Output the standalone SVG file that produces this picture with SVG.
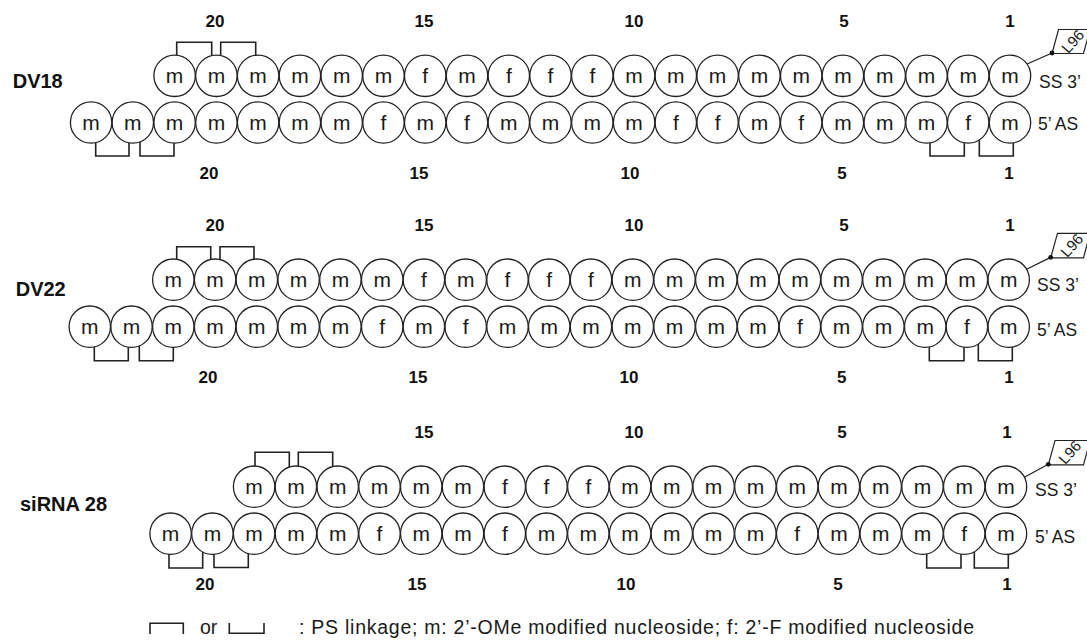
<svg xmlns="http://www.w3.org/2000/svg" width="1087" height="642" viewBox="0 0 1087 642">
<style>
.nt circle{fill:#fff;stroke:#222;stroke-width:1.3}
.nt text{font-family:"Liberation Sans",Arial,sans-serif;font-size:21px;text-anchor:middle;fill:#1a1a1a}
.br{fill:none;stroke:#222;stroke-width:1.6}
.num{font-family:"Liberation Sans",Arial,sans-serif;font-size:17px;font-weight:bold;text-anchor:middle;fill:#111}
.name{font-family:"Liberation Sans",Arial,sans-serif;font-size:20px;font-weight:bold;fill:#111}
.end{font-family:"Liberation Sans",Arial,sans-serif;font-size:17.5px;fill:#1a1a1a}
.tag{fill:#fff;stroke:#222;stroke-width:1.2}
.tagt{font-family:"Liberation Sans",Arial,sans-serif;font-size:15px;fill:#1a1a1a;text-anchor:middle}
.leg{font-family:"Liberation Sans",Arial,sans-serif;font-size:19.5px;fill:#1a1a1a}
</style>
<g id="connectors">
<polyline class="br" points="176.7,58 176.7,42.3 211.7,42.3 211.7,58"/>
<polyline class="br" points="220.7,58 220.7,42.3 255.7,42.3 255.7,58"/>
<polyline class="br" points="95.7,140 95.7,156 129,156 129,140"/>
<polyline class="br" points="140,140 140,156 174,156 174,140"/>
<polyline class="br" points="930,140 930,156 964.3,156 964.3,140"/>
<polyline class="br" points="979.3,140 979.3,156 1013.3,156 1013.3,140"/>
<line class="br" x1="1026" y1="64.5" x2="1052" y2="53" style="stroke-width:1.3"/>
<polyline class="br" points="176.7,262 176.7,246.7 210.7,246.7 210.7,262"/>
<polyline class="br" points="220,262 220,246.7 254,246.7 254,262"/>
<polyline class="br" points="94.3,344 94.3,360.7 128.3,360.7 128.3,344"/>
<polyline class="br" points="139.3,344 139.3,360.7 173.3,360.7 173.3,344"/>
<polyline class="br" points="929.3,344 929.3,360.7 964,360.7 964,344"/>
<polyline class="br" points="978.3,344 978.3,360.7 1012.3,360.7 1012.3,344"/>
<line class="br" x1="1026" y1="269.5" x2="1050.7" y2="257.3" style="stroke-width:1.3"/>
<polyline class="br" points="255,469 255,452.3 289.3,452.3 289.3,469"/>
<polyline class="br" points="298.3,469 298.3,452.3 332.7,452.3 332.7,469"/>
<polyline class="br" points="169,551 169,568 202.7,568 202.7,551"/>
<polyline class="br" points="214,551 214,567.5 248.3,567.5 248.3,551"/>
<polyline class="br" points="926.7,551 926.7,568 961,568 961,551"/>
<polyline class="br" points="974.3,551 974.3,568 1008.3,568 1008.3,551"/>
<line class="br" x1="1023" y1="478" x2="1048.3" y2="464.3" style="stroke-width:1.3"/>
</g>
<g id="dv18">
<text class="name" x="12.7" y="88">DV18</text>
<g class="num"><text x="215" y="27">20</text><text x="424" y="27">15</text><text x="634" y="27">10</text><text x="844" y="27">5</text><text x="1010" y="27">1</text></g>
<g class="num"><text x="209" y="179">20</text><text x="419" y="179">15</text><text x="630" y="179">10</text><text x="842" y="179">5</text><text x="1009" y="179">1</text></g>
<text class="end" x="1039" y="88">SS 3’</text>
<text class="end" x="1038" y="129.5">5’ AS</text>
<g id="dv18-l96"><polygon class="tag" points="1052,53.5 1058.5,29.5 1090,29.5 1083.5,53.5"/><circle cx="1052" cy="53" r="2.4" fill="#111"/><text class="tagt" transform="translate(1073,41.5) rotate(-48)" y="5">L96</text></g>
<g id="dv18-ss1" class="nt" transform="translate(1010,75.8)"><circle r="20.7"/><text y="7.5">m</text></g>
<g id="dv18-ss2" class="nt" transform="translate(968.2,75.8)"><circle r="20.7"/><text y="7.5">m</text></g>
<g id="dv18-ss3" class="nt" transform="translate(926.5,75.8)"><circle r="20.7"/><text y="7.5">m</text></g>
<g id="dv18-ss4" class="nt" transform="translate(884.7,75.8)"><circle r="20.7"/><text y="7.5">m</text></g>
<g id="dv18-ss5" class="nt" transform="translate(842.9,75.8)"><circle r="20.7"/><text y="7.5">m</text></g>
<g id="dv18-ss6" class="nt" transform="translate(801.2,75.8)"><circle r="20.7"/><text y="7.5">m</text></g>
<g id="dv18-ss7" class="nt" transform="translate(759.4,75.8)"><circle r="20.7"/><text y="7.5">m</text></g>
<g id="dv18-ss8" class="nt" transform="translate(717.6,75.8)"><circle r="20.7"/><text y="7.5">m</text></g>
<g id="dv18-ss9" class="nt" transform="translate(675.8,75.8)"><circle r="20.7"/><text y="7.5">m</text></g>
<g id="dv18-ss10" class="nt" transform="translate(634.1,75.8)"><circle r="20.7"/><text y="7.5">m</text></g>
<g id="dv18-ss11" class="nt" transform="translate(592.3,75.8)"><circle r="20.7"/><text y="7.5">f</text></g>
<g id="dv18-ss12" class="nt" transform="translate(550.5,75.8)"><circle r="20.7"/><text y="7.5">f</text></g>
<g id="dv18-ss13" class="nt" transform="translate(508.8,75.8)"><circle r="20.7"/><text y="7.5">f</text></g>
<g id="dv18-ss14" class="nt" transform="translate(467,75.8)"><circle r="20.7"/><text y="7.5">m</text></g>
<g id="dv18-ss15" class="nt" transform="translate(425.2,75.8)"><circle r="20.7"/><text y="7.5">f</text></g>
<g id="dv18-ss16" class="nt" transform="translate(383.5,75.8)"><circle r="20.7"/><text y="7.5">m</text></g>
<g id="dv18-ss17" class="nt" transform="translate(341.7,75.8)"><circle r="20.7"/><text y="7.5">m</text></g>
<g id="dv18-ss18" class="nt" transform="translate(299.9,75.8)"><circle r="20.7"/><text y="7.5">m</text></g>
<g id="dv18-ss19" class="nt" transform="translate(258.1,75.8)"><circle r="20.7"/><text y="7.5">m</text></g>
<g id="dv18-ss20" class="nt" transform="translate(216.4,75.8)"><circle r="20.7"/><text y="7.5">m</text></g>
<g id="dv18-ss21" class="nt" transform="translate(174.6,75.8)"><circle r="20.7"/><text y="7.5">m</text></g>
<g id="dv18-as1" class="nt" transform="translate(1010,122.5)"><circle r="20.7"/><text y="7.5">m</text></g>
<g id="dv18-as2" class="nt" transform="translate(968.2,122.5)"><circle r="20.7"/><text y="7.5">f</text></g>
<g id="dv18-as3" class="nt" transform="translate(926.5,122.5)"><circle r="20.7"/><text y="7.5">m</text></g>
<g id="dv18-as4" class="nt" transform="translate(884.7,122.5)"><circle r="20.7"/><text y="7.5">m</text></g>
<g id="dv18-as5" class="nt" transform="translate(842.9,122.5)"><circle r="20.7"/><text y="7.5">m</text></g>
<g id="dv18-as6" class="nt" transform="translate(801.2,122.5)"><circle r="20.7"/><text y="7.5">f</text></g>
<g id="dv18-as7" class="nt" transform="translate(759.4,122.5)"><circle r="20.7"/><text y="7.5">m</text></g>
<g id="dv18-as8" class="nt" transform="translate(717.6,122.5)"><circle r="20.7"/><text y="7.5">f</text></g>
<g id="dv18-as9" class="nt" transform="translate(675.8,122.5)"><circle r="20.7"/><text y="7.5">f</text></g>
<g id="dv18-as10" class="nt" transform="translate(634.1,122.5)"><circle r="20.7"/><text y="7.5">m</text></g>
<g id="dv18-as11" class="nt" transform="translate(592.3,122.5)"><circle r="20.7"/><text y="7.5">m</text></g>
<g id="dv18-as12" class="nt" transform="translate(550.5,122.5)"><circle r="20.7"/><text y="7.5">m</text></g>
<g id="dv18-as13" class="nt" transform="translate(508.8,122.5)"><circle r="20.7"/><text y="7.5">m</text></g>
<g id="dv18-as14" class="nt" transform="translate(467,122.5)"><circle r="20.7"/><text y="7.5">f</text></g>
<g id="dv18-as15" class="nt" transform="translate(425.2,122.5)"><circle r="20.7"/><text y="7.5">m</text></g>
<g id="dv18-as16" class="nt" transform="translate(383.5,122.5)"><circle r="20.7"/><text y="7.5">f</text></g>
<g id="dv18-as17" class="nt" transform="translate(341.7,122.5)"><circle r="20.7"/><text y="7.5">m</text></g>
<g id="dv18-as18" class="nt" transform="translate(299.9,122.5)"><circle r="20.7"/><text y="7.5">m</text></g>
<g id="dv18-as19" class="nt" transform="translate(258.1,122.5)"><circle r="20.7"/><text y="7.5">m</text></g>
<g id="dv18-as20" class="nt" transform="translate(216.4,122.5)"><circle r="20.7"/><text y="7.5">m</text></g>
<g id="dv18-as21" class="nt" transform="translate(174.6,122.5)"><circle r="20.7"/><text y="7.5">m</text></g>
<g id="dv18-as22" class="nt" transform="translate(132.8,122.5)"><circle r="20.7"/><text y="7.5">m</text></g>
<g id="dv18-as23" class="nt" transform="translate(91.1,122.5)"><circle r="20.7"/><text y="7.5">m</text></g>
</g>
<g id="dv22">
<text class="name" x="15.7" y="295.5">DV22</text>
<g class="num"><text x="215" y="231">20</text><text x="424" y="231">15</text><text x="634" y="231">10</text><text x="844" y="231">5</text><text x="1010" y="231">1</text></g>
<g class="num"><text x="208" y="382.7">20</text><text x="418" y="382.7">15</text><text x="629" y="382.7">10</text><text x="841.7" y="382.7">5</text><text x="1009" y="382.7">1</text></g>
<text class="end" x="1037" y="291.3">SS 3’</text>
<text class="end" x="1037" y="336.3">5’ AS</text>
<g id="dv22-l96"><polygon class="tag" points="1050.7,257.8 1057.5,233.3 1090,233.3 1083.5,257.8"/><circle cx="1050.7" cy="257.3" r="2.4" fill="#111"/><text class="tagt" transform="translate(1072,245.5) rotate(-48)" y="5">L96</text></g>
<g id="dv22-ss1" class="nt" transform="translate(1008.7,279.7)"><circle r="20.7"/><text y="7.5">m</text></g>
<g id="dv22-ss2" class="nt" transform="translate(966.9,279.7)"><circle r="20.7"/><text y="7.5">m</text></g>
<g id="dv22-ss3" class="nt" transform="translate(925.2,279.7)"><circle r="20.7"/><text y="7.5">m</text></g>
<g id="dv22-ss4" class="nt" transform="translate(883.4,279.7)"><circle r="20.7"/><text y="7.5">m</text></g>
<g id="dv22-ss5" class="nt" transform="translate(841.6,279.7)"><circle r="20.7"/><text y="7.5">m</text></g>
<g id="dv22-ss6" class="nt" transform="translate(799.9,279.7)"><circle r="20.7"/><text y="7.5">m</text></g>
<g id="dv22-ss7" class="nt" transform="translate(758.1,279.7)"><circle r="20.7"/><text y="7.5">m</text></g>
<g id="dv22-ss8" class="nt" transform="translate(716.3,279.7)"><circle r="20.7"/><text y="7.5">m</text></g>
<g id="dv22-ss9" class="nt" transform="translate(674.5,279.7)"><circle r="20.7"/><text y="7.5">m</text></g>
<g id="dv22-ss10" class="nt" transform="translate(632.8,279.7)"><circle r="20.7"/><text y="7.5">m</text></g>
<g id="dv22-ss11" class="nt" transform="translate(591,279.7)"><circle r="20.7"/><text y="7.5">f</text></g>
<g id="dv22-ss12" class="nt" transform="translate(549.2,279.7)"><circle r="20.7"/><text y="7.5">f</text></g>
<g id="dv22-ss13" class="nt" transform="translate(507.5,279.7)"><circle r="20.7"/><text y="7.5">f</text></g>
<g id="dv22-ss14" class="nt" transform="translate(465.7,279.7)"><circle r="20.7"/><text y="7.5">m</text></g>
<g id="dv22-ss15" class="nt" transform="translate(423.9,279.7)"><circle r="20.7"/><text y="7.5">f</text></g>
<g id="dv22-ss16" class="nt" transform="translate(382.2,279.7)"><circle r="20.7"/><text y="7.5">m</text></g>
<g id="dv22-ss17" class="nt" transform="translate(340.4,279.7)"><circle r="20.7"/><text y="7.5">m</text></g>
<g id="dv22-ss18" class="nt" transform="translate(298.6,279.7)"><circle r="20.7"/><text y="7.5">m</text></g>
<g id="dv22-ss19" class="nt" transform="translate(256.8,279.7)"><circle r="20.7"/><text y="7.5">m</text></g>
<g id="dv22-ss20" class="nt" transform="translate(215.1,279.7)"><circle r="20.7"/><text y="7.5">m</text></g>
<g id="dv22-ss21" class="nt" transform="translate(173.3,279.7)"><circle r="20.7"/><text y="7.5">m</text></g>
<g id="dv22-as1" class="nt" transform="translate(1008.7,326.7)"><circle r="20.7"/><text y="7.5">m</text></g>
<g id="dv22-as2" class="nt" transform="translate(966.9,326.7)"><circle r="20.7"/><text y="7.5">f</text></g>
<g id="dv22-as3" class="nt" transform="translate(925.2,326.7)"><circle r="20.7"/><text y="7.5">m</text></g>
<g id="dv22-as4" class="nt" transform="translate(883.4,326.7)"><circle r="20.7"/><text y="7.5">m</text></g>
<g id="dv22-as5" class="nt" transform="translate(841.6,326.7)"><circle r="20.7"/><text y="7.5">m</text></g>
<g id="dv22-as6" class="nt" transform="translate(799.9,326.7)"><circle r="20.7"/><text y="7.5">f</text></g>
<g id="dv22-as7" class="nt" transform="translate(758.1,326.7)"><circle r="20.7"/><text y="7.5">m</text></g>
<g id="dv22-as8" class="nt" transform="translate(716.3,326.7)"><circle r="20.7"/><text y="7.5">m</text></g>
<g id="dv22-as9" class="nt" transform="translate(674.5,326.7)"><circle r="20.7"/><text y="7.5">m</text></g>
<g id="dv22-as10" class="nt" transform="translate(632.8,326.7)"><circle r="20.7"/><text y="7.5">m</text></g>
<g id="dv22-as11" class="nt" transform="translate(591,326.7)"><circle r="20.7"/><text y="7.5">m</text></g>
<g id="dv22-as12" class="nt" transform="translate(549.2,326.7)"><circle r="20.7"/><text y="7.5">m</text></g>
<g id="dv22-as13" class="nt" transform="translate(507.5,326.7)"><circle r="20.7"/><text y="7.5">m</text></g>
<g id="dv22-as14" class="nt" transform="translate(465.7,326.7)"><circle r="20.7"/><text y="7.5">f</text></g>
<g id="dv22-as15" class="nt" transform="translate(423.9,326.7)"><circle r="20.7"/><text y="7.5">m</text></g>
<g id="dv22-as16" class="nt" transform="translate(382.2,326.7)"><circle r="20.7"/><text y="7.5">f</text></g>
<g id="dv22-as17" class="nt" transform="translate(340.4,326.7)"><circle r="20.7"/><text y="7.5">m</text></g>
<g id="dv22-as18" class="nt" transform="translate(298.6,326.7)"><circle r="20.7"/><text y="7.5">m</text></g>
<g id="dv22-as19" class="nt" transform="translate(256.8,326.7)"><circle r="20.7"/><text y="7.5">m</text></g>
<g id="dv22-as20" class="nt" transform="translate(215.1,326.7)"><circle r="20.7"/><text y="7.5">m</text></g>
<g id="dv22-as21" class="nt" transform="translate(173.3,326.7)"><circle r="20.7"/><text y="7.5">m</text></g>
<g id="dv22-as22" class="nt" transform="translate(131.5,326.7)"><circle r="20.7"/><text y="7.5">m</text></g>
<g id="dv22-as23" class="nt" transform="translate(89.8,326.7)"><circle r="20.7"/><text y="7.5">m</text></g>
</g>
<g id="sirna28">
<text class="name" x="20" y="510.5">siRNA 28</text>
<g class="num"><text x="424" y="438">15</text><text x="634" y="438">10</text><text x="842" y="438">5</text><text x="1007" y="438">1</text></g>
<g class="num"><text x="205" y="590">20</text><text x="417" y="590">15</text><text x="626" y="590">10</text><text x="838" y="590">5</text><text x="1007" y="590">1</text></g>
<text class="end" x="1035" y="495.6">SS 3’</text>
<text class="end" x="1035" y="543">5’ AS</text>
<g id="sirna28-l96"><polygon class="tag" points="1048.3,464.8 1055,440.5 1090,440.5 1083.5,464.8"/><circle cx="1048.3" cy="464.3" r="2.4" fill="#111"/><text class="tagt" transform="translate(1070,452.5) rotate(-48)" y="5">L96</text></g>
<g id="si-ss1" class="nt" transform="translate(1006,486.7)"><circle r="20.7"/><text y="7.5">m</text></g>
<g id="si-ss2" class="nt" transform="translate(964.2,486.7)"><circle r="20.7"/><text y="7.5">m</text></g>
<g id="si-ss3" class="nt" transform="translate(922.5,486.7)"><circle r="20.7"/><text y="7.5">m</text></g>
<g id="si-ss4" class="nt" transform="translate(880.7,486.7)"><circle r="20.7"/><text y="7.5">m</text></g>
<g id="si-ss5" class="nt" transform="translate(838.9,486.7)"><circle r="20.7"/><text y="7.5">m</text></g>
<g id="si-ss6" class="nt" transform="translate(797.2,486.7)"><circle r="20.7"/><text y="7.5">m</text></g>
<g id="si-ss7" class="nt" transform="translate(755.4,486.7)"><circle r="20.7"/><text y="7.5">m</text></g>
<g id="si-ss8" class="nt" transform="translate(713.6,486.7)"><circle r="20.7"/><text y="7.5">m</text></g>
<g id="si-ss9" class="nt" transform="translate(671.8,486.7)"><circle r="20.7"/><text y="7.5">m</text></g>
<g id="si-ss10" class="nt" transform="translate(630.1,486.7)"><circle r="20.7"/><text y="7.5">m</text></g>
<g id="si-ss11" class="nt" transform="translate(588.3,486.7)"><circle r="20.7"/><text y="7.5">f</text></g>
<g id="si-ss12" class="nt" transform="translate(546.5,486.7)"><circle r="20.7"/><text y="7.5">f</text></g>
<g id="si-ss13" class="nt" transform="translate(504.8,486.7)"><circle r="20.7"/><text y="7.5">f</text></g>
<g id="si-ss14" class="nt" transform="translate(463,486.7)"><circle r="20.7"/><text y="7.5">m</text></g>
<g id="si-ss15" class="nt" transform="translate(421.2,486.7)"><circle r="20.7"/><text y="7.5">m</text></g>
<g id="si-ss16" class="nt" transform="translate(379.5,486.7)"><circle r="20.7"/><text y="7.5">m</text></g>
<g id="si-ss17" class="nt" transform="translate(337.7,486.7)"><circle r="20.7"/><text y="7.5">m</text></g>
<g id="si-ss18" class="nt" transform="translate(295.9,486.7)"><circle r="20.7"/><text y="7.5">m</text></g>
<g id="si-ss19" class="nt" transform="translate(254.1,486.7)"><circle r="20.7"/><text y="7.5">m</text></g>
<g id="si-as1" class="nt" transform="translate(1006,533.7)"><circle r="20.7"/><text y="7.5">m</text></g>
<g id="si-as2" class="nt" transform="translate(964.2,533.7)"><circle r="20.7"/><text y="7.5">f</text></g>
<g id="si-as3" class="nt" transform="translate(922.5,533.7)"><circle r="20.7"/><text y="7.5">m</text></g>
<g id="si-as4" class="nt" transform="translate(880.7,533.7)"><circle r="20.7"/><text y="7.5">m</text></g>
<g id="si-as5" class="nt" transform="translate(838.9,533.7)"><circle r="20.7"/><text y="7.5">m</text></g>
<g id="si-as6" class="nt" transform="translate(797.2,533.7)"><circle r="20.7"/><text y="7.5">f</text></g>
<g id="si-as7" class="nt" transform="translate(755.4,533.7)"><circle r="20.7"/><text y="7.5">m</text></g>
<g id="si-as8" class="nt" transform="translate(713.6,533.7)"><circle r="20.7"/><text y="7.5">m</text></g>
<g id="si-as9" class="nt" transform="translate(671.8,533.7)"><circle r="20.7"/><text y="7.5">m</text></g>
<g id="si-as10" class="nt" transform="translate(630.1,533.7)"><circle r="20.7"/><text y="7.5">m</text></g>
<g id="si-as11" class="nt" transform="translate(588.3,533.7)"><circle r="20.7"/><text y="7.5">m</text></g>
<g id="si-as12" class="nt" transform="translate(546.5,533.7)"><circle r="20.7"/><text y="7.5">m</text></g>
<g id="si-as13" class="nt" transform="translate(504.8,533.7)"><circle r="20.7"/><text y="7.5">f</text></g>
<g id="si-as14" class="nt" transform="translate(463,533.7)"><circle r="20.7"/><text y="7.5">m</text></g>
<g id="si-as15" class="nt" transform="translate(421.2,533.7)"><circle r="20.7"/><text y="7.5">m</text></g>
<g id="si-as16" class="nt" transform="translate(379.5,533.7)"><circle r="20.7"/><text y="7.5">f</text></g>
<g id="si-as17" class="nt" transform="translate(337.7,533.7)"><circle r="20.7"/><text y="7.5">m</text></g>
<g id="si-as18" class="nt" transform="translate(295.9,533.7)"><circle r="20.7"/><text y="7.5">m</text></g>
<g id="si-as19" class="nt" transform="translate(254.1,533.7)"><circle r="20.7"/><text y="7.5">m</text></g>
<g id="si-as20" class="nt" transform="translate(212.4,533.7)"><circle r="20.7"/><text y="7.5">m</text></g>
<g id="si-as21" class="nt" transform="translate(170.6,533.7)"><circle r="20.7"/><text y="7.5">m</text></g>
</g>
<g id="legend">
<polyline class="br" points="150,634 150,623.3 183.3,623.3 183.3,634"/>
<text class="leg" x="200" y="633.5">or</text>
<polyline class="br" points="229.3,623 229.3,633.3 264,633.3 264,623"/>
<text class="leg" x="299" y="633.5" textLength="675" lengthAdjust="spacing">: PS linkage; m: 2’-OMe modified nucleoside; f: 2’-F modified nucleoside</text>
</g>
</svg>
